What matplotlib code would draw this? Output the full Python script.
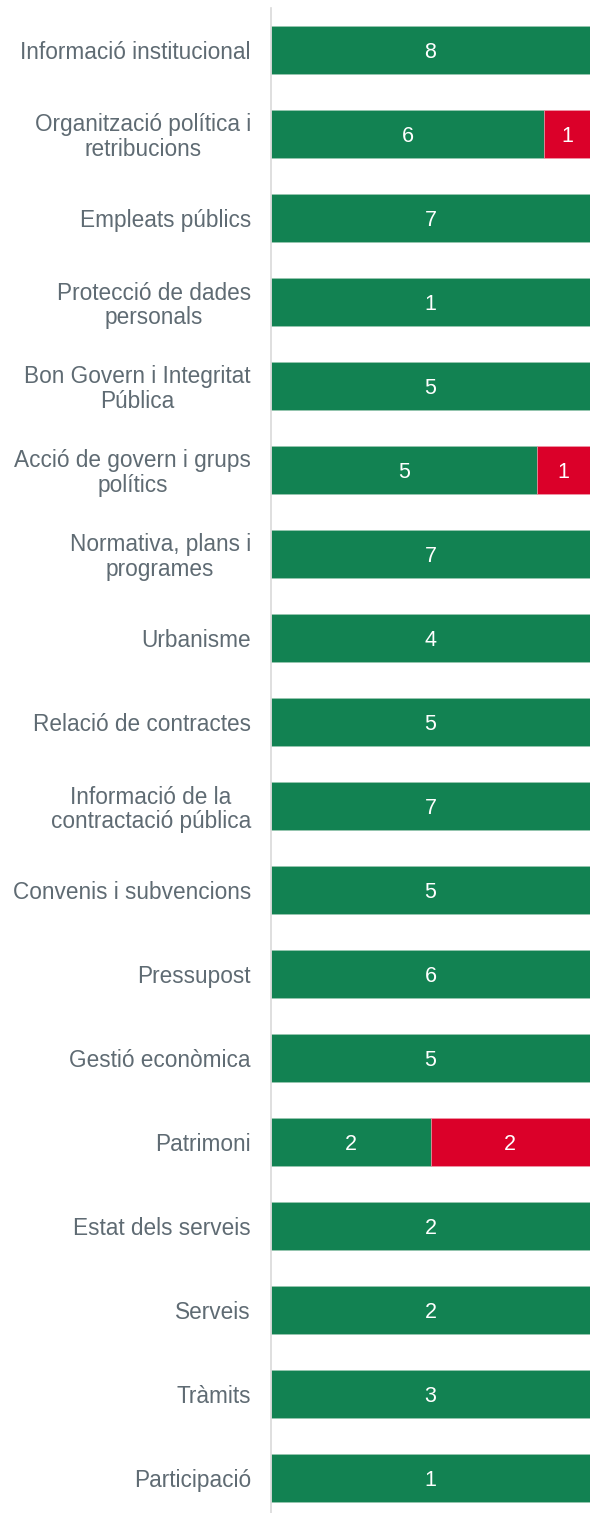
import numpy as np
import matplotlib
matplotlib.use('Agg')
from matplotlib import pyplot as plt

plt.rcParams['font.family'] = ['Liberation Sans', 'DejaVu Sans']

# Categories and counts per category (green = compleix, red = no compleix).
categories = [
    'Informació institucional',
    'Organització política i\nretribucions',
    'Empleats públics',
    'Protecció de dades\npersonals',
    'Bon Govern i Integritat\nPública',
    'Acció de govern i grups\npolítics',
    'Normativa, plans i\nprogrames',
    'Urbanisme',
    'Relació de contractes',
    'Informació de la\ncontractació pública',
    'Convenis i subvencions',
    'Pressupost',
    'Gestió econòmica',
    'Patrimoni',
    'Estat dels serveis',
    'Serveis',
    'Tràmits',
    'Participació',
]
green_vals = [8, 6, 7, 1, 5, 5, 7, 4, 5, 7, 5, 6, 5, 2, 2, 2, 3, 1]
red_vals = [0, 1, 0, 0, 0, 1, 0, 0, 0, 0, 0, 0, 0, 2, 0, 0, 0, 0]

green = '#128252'
red = '#DB0029'
label_color = '#5F6B73'

green_arr = np.array(green_vals, dtype=float)
red_arr = np.array(red_vals, dtype=float)
total = green_arr + red_arr
g_share = green_arr / total
r_share = red_arr / total

fig = plt.figure(figsize=(5.92, 15.13), dpi=100)
ax = fig.add_axes([271/592, -7/1513, 319/592, 1512/1513])

y = np.arange(len(categories))
h = 0.58
ax.barh(y, g_share, height=h, color=green, edgecolor='#9fc9b3', linewidth=0.4)
ax.barh(y, r_share, left=g_share, height=h, color=red, edgecolor='#f0a0b0', linewidth=0.4)

# Value labels centred in each segment.
for i in range(len(categories)):
    if green_vals[i] > 0:
        ax.text(g_share[i]/2, y[i], str(green_vals[i]), ha='center', va='center_baseline',
                color='white', fontsize=15.5)
    if red_vals[i] > 0:
        ax.text(g_share[i] + r_share[i]/2, y[i], str(red_vals[i]), ha='center',
                va='center_baseline', color='white', fontsize=15.5)

ax.set_xlim(0, 1)
ax.set_ylim(len(categories) - 0.5, -0.5)
ax.set_xticks([])
ax.set_yticks(y)
ax.set_yticklabels(categories, fontsize=16.3, color=label_color, multialignment='center',
                   linespacing=1.1)
ax.tick_params(axis='y', length=0, pad=14.5)
for s in ['top', 'right', 'bottom']:
    ax.spines[s].set_visible(False)
ax.spines['left'].set_color('#D9D9D9')
ax.spines['left'].set_linewidth(1.2)

plt.savefig('out.png', dpi=100)
